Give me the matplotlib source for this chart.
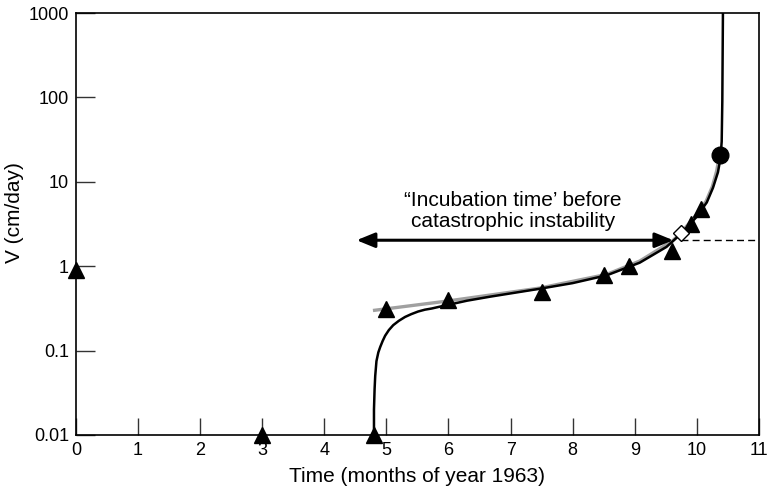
import matplotlib.pyplot as plt
from matplotlib.ticker import FixedLocator, NullLocator

plt.rcParams['font.family'] = ['Liberation Sans', 'DejaVu Sans']

# measured velocities (triangles)
obs_t = [0.0, 3.0, 4.8, 5.0, 6.0, 7.5, 8.5, 8.9, 9.6, 9.9, 10.07]
obs_v = [0.9, 0.01, 0.01, 0.31, 0.40, 0.50, 0.78, 1.0, 1.5, 3.2, 4.8]

# failure point and onset point
fail_t, fail_v = [10.37], [20.5]
onset_t, onset_v = [9.74], [2.44]

# black fitted curve
fit_t = [4.80, 4.80, 4.81, 4.82, 4.84, 4.87, 4.90, 4.94, 4.98, 5.04, 5.11, 5.20,
         5.30, 5.40, 5.51, 5.62, 5.73, 5.85, 5.97, 6.30, 6.67, 7.47, 8.0,
         8.55, 9.08, 9.51, 9.75, 9.99, 10.16, 10.26, 10.34, 10.38, 10.40, 10.41, 10.42]
fit_v = [0.01, 0.02, 0.035, 0.05, 0.075, 0.095, 0.11, 0.13, 0.15, 0.175, 0.20, 0.225,
         0.25, 0.27, 0.29, 0.305, 0.315, 0.33, 0.345, 0.39, 0.435, 0.54, 0.63,
         0.78, 1.10, 1.69, 2.44, 3.8, 5.7, 8.5, 13.0, 19.0, 30.0, 90.0, 1000]

# grey trend line through the data
trend_t = [4.81, 5.97, 7.47, 8.55, 9.08, 9.61, 9.74, 9.98, 10.15, 10.25, 10.32, 10.36]
trend_v = [0.30, 0.385, 0.55, 0.80, 1.15, 2.0, 2.47, 3.95, 5.9, 8.8, 13.5, 20.0]

arrow_t = [4.52, 9.62]
level_v = 2.03

fig = plt.figure(figsize=(7.67, 4.92), dpi=100)
ax = fig.add_axes([0.099, 0.116, 0.8905, 0.8575])

ax.plot(trend_t, trend_v, color='#a0a0a0', lw=2.4, zorder=2)
ax.plot(fit_t, fit_v, color='black', lw=1.8, zorder=3)
ax.plot([onset_t[0], 11], [level_v, level_v], color='black', lw=1.0,
        ls=(0, (5, 3)), zorder=2)
ax.annotate('', xy=(arrow_t[0], level_v), xytext=(arrow_t[1], level_v),
            arrowprops=dict(arrowstyle='<|-|>,head_length=1.1,head_width=0.45',
                            color='black', lw=2.2, shrinkA=0, shrinkB=0),
            zorder=4)
ax.plot(obs_t, obs_v, ls='none', marker='^', ms=12, color='black',
        clip_on=False, zorder=5)
ax.plot(fail_t, fail_v, ls='none', marker='o', ms=12, color='black', zorder=5)
ax.plot(onset_t, onset_v, ls='none', marker='D', ms=8, mfc='white',
        mec='black', mew=1.0, zorder=6)

ax.text(7.04, 4.55, '\u201cIncubation time\u2019 before\ncatastrophic instability',
        ha='center', va='center', fontsize=15, linespacing=1.12)

ax.set_yscale('log')
ax.set_xlim(0, 11)
ax.set_ylim(0.01, 1000)
ax.xaxis.set_major_locator(FixedLocator(range(12)))
ax.set_xticklabels([str(i) for i in range(12)])
ax.yaxis.set_major_locator(FixedLocator([0.01, 0.1, 1, 10, 100, 1000]))
ax.yaxis.set_minor_locator(NullLocator())
ax.set_yticklabels(['0.01', '0.1', '1', '10', '100', '1000'])
ax.tick_params(axis='x', direction='in', length=12, width=1.0, color='#333333',
               labelsize=13, pad=5)
ax.tick_params(axis='y', direction='in', length=13.5, width=1.0, color='#333333',
               labelsize=13, pad=5)
for s in ax.spines.values():
    s.set_linewidth(1.2)

ax.set_xlabel('Time (months of year 1963)', fontsize=15, labelpad=6)
ax.set_ylabel('V (cm/day)', fontsize=15)
ax.yaxis.set_label_coords(-0.076, 0.528)

fig.savefig('out.png', dpi=100)
